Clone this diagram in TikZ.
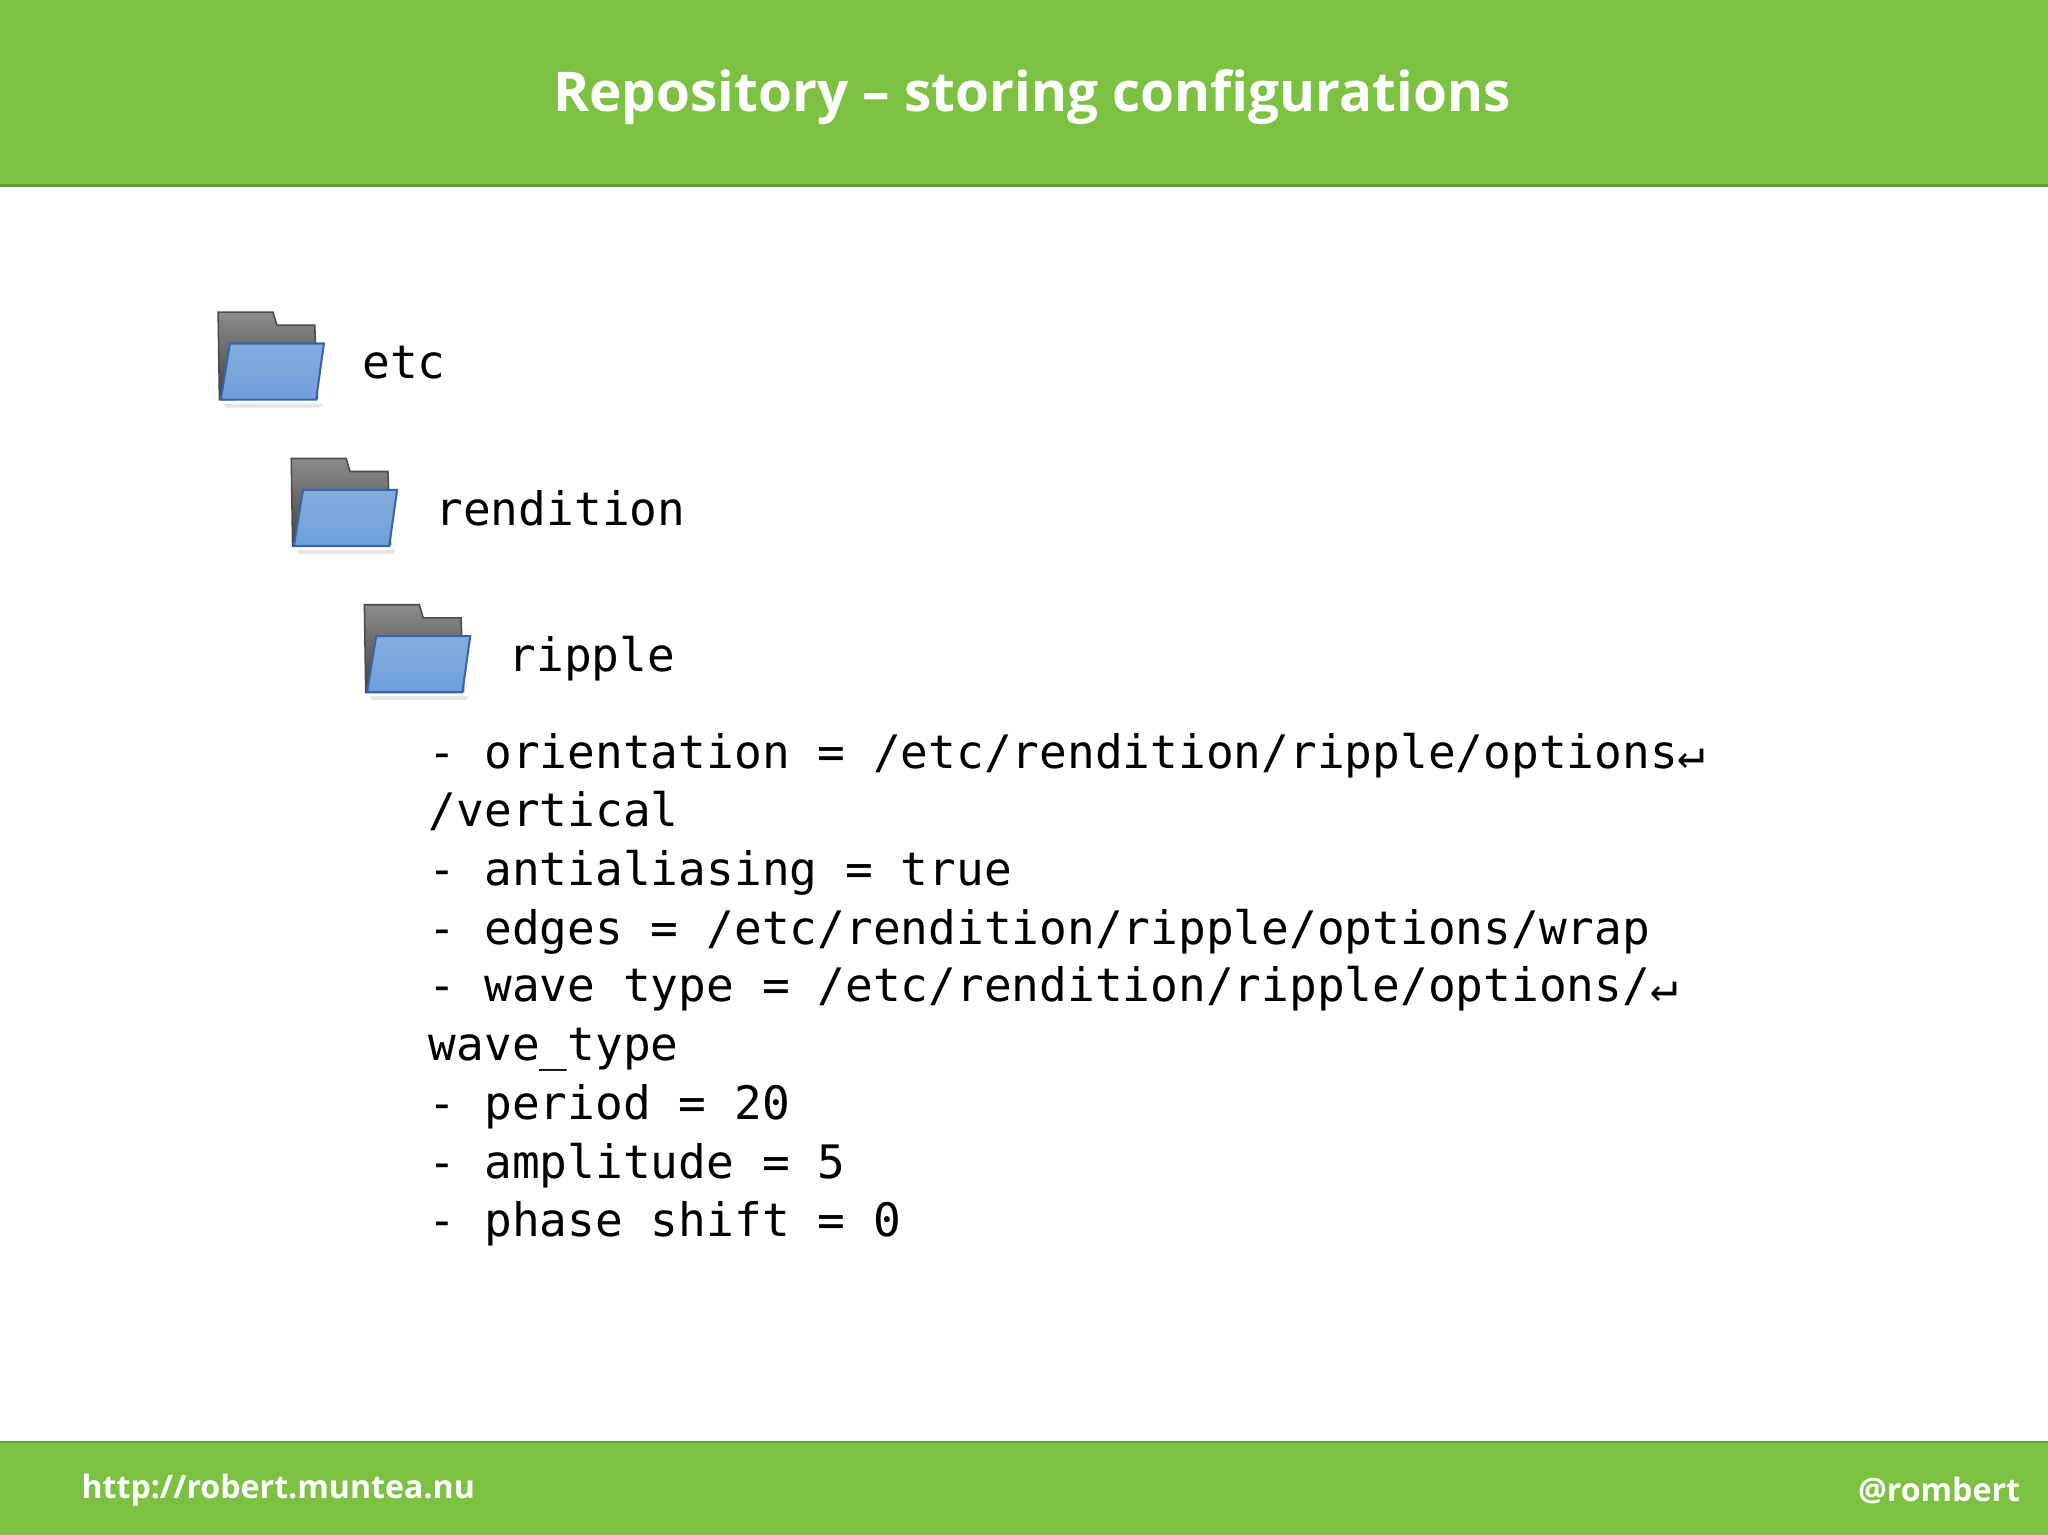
\documentclass[tikz,border=0pt]{standalone}
\usepackage{fontspec}
\setmainfont{Open Sans}
\newfontfamily\monof{DejaVu Sans Mono}
\definecolor{bar}{HTML}{7DC142}
\definecolor{barline}{HTML}{5E9E32}
\definecolor{fblue}{HTML}{6F9FDA}
\definecolor{fblueline}{HTML}{3A64A8}
\tikzset{
  mono/.style={anchor=base west,inner sep=0pt,font=\monof\fontsize{17.65}{22}\selectfont},
  pics/folder/.style={code={
    \fill[black!20,opacity=0.5] (4,70) -- (80,70) -- (78,73) -- (6,73) -- cycle;
    \shade[top color=black!45,bottom color=black!75,draw=black!70,line width=0.6pt]
      (0,0) -- (42,0) -- (45,10) -- (74,10) -- (76,66) -- (1,67) -- cycle;
    \shade[top color=fblue!85!white,bottom color=fblue,draw=fblueline,line width=0.8pt]
      (9,24) -- (81,24) -- (75,67) -- (2,67) -- cycle;
  }}
}
\begin{document}
\begin{tikzpicture}[x=0.5pt,y=-0.5pt]
\useasboundingbox (0,0) rectangle (1568,1175);
\fill[white] (0,0) rectangle (1568,1175);
\fill[bar] (0,0) rectangle (1568,142);
\draw[barline,line width=1pt] (0,142) -- (1568,142);
\fill[bar] (0,1104) rectangle (1568,1175);
\draw[barline,line width=1pt] (0,1104) -- (1568,1104);
\node[font=\bfseries\fontsize{21}{26}\selectfont,text=white] (title) at (790,74) {Repository – storing configurations};
\node[font=\bfseries\fontsize{12.3}{14}\selectfont,text=white,anchor=west,inner sep=0pt] (url) at (62,1141) {http://robert.muntea.nu};
\node[font=\bfseries\fontsize{12.3}{14}\selectfont,text=white,anchor=east,inner sep=0pt] (tw) at (1547,1141) {@rombert};
\pic (f1) at (167,239) {folder};
\pic (f2) at (223,351) {folder};
\pic (f3) at (279,463) {folder};
\node[mono] (etc) at (277,290) {etc};
\node[mono] (ren) at (333,402) {rendition};
\node[mono] (rip) at (389,514) {ripple};
\node[mono] (l1) at (328,588) {- orientation = /etc/rendition/ripple/options↵};
\node[mono] (l2) at (328,633) {/vertical};
\node[mono] (l3) at (328,678) {- antialiasing = true};
\node[mono] (l4) at (328,723) {- edges = /etc/rendition/ripple/options/wrap};
\node[mono] (l5) at (328,767) {- wave type = /etc/rendition/ripple/options/↵};
\node[mono] (l6) at (328,812) {wave\_type};
\node[mono] (l7) at (328,857) {- period = 20};
\node[mono] (l8) at (328,902) {- amplitude = 5};
\node[mono] (l9) at (328,947) {- phase shift = 0};
\end{tikzpicture}
\end{document}
